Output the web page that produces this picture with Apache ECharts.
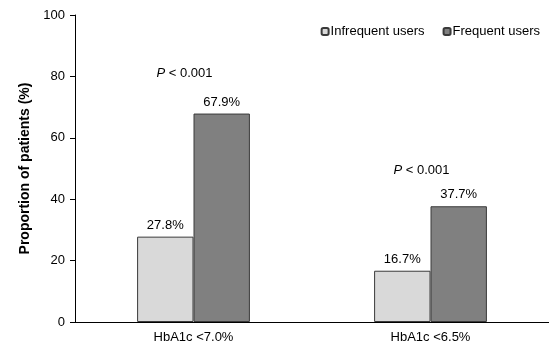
<!DOCTYPE html>
<html><head><meta charset="utf-8">
<script src="https://cdn.jsdelivr.net/npm/echarts@6/dist/echarts.min.js"></script>
<style>html,body{margin:0;padding:0;background:#fff}#c{width:549px;height:346px}</style>
</head><body><div id="c"></div>
<script>
var categories = ['HbA1c <7.0%', 'HbA1c <6.5%'];
var infrequent = [27.8, 16.7];
var frequent = [67.9, 37.7];
var pLabels = ['< 0.001', '< 0.001'];
var pValueY = [81.0, 49.5];
var yTicks = [0, 20, 40, 60, 80, 100];

var chart = echarts.init(document.getElementById('c'));
var font = 'Liberation Sans, Arial, sans-serif';
chart.setOption({
  animation: false,
  textStyle: {fontFamily: font},
  grid: {left: 75, top: 15, width: 478, height: 307, containLabel: false},
  legend: {
    top: 20, right: 4, itemWidth: 7, itemHeight: 7, itemGap: 18,
    textStyle: {fontSize: 13, color: '#000', fontFamily: font, padding: [0,0,0,-3]},
    data: ['Infrequent users', 'Frequent users']
  },
  xAxis: {
    type: 'category', data: categories,
    axisLine: {lineStyle: {color: '#000', width: 1}},
    axisTick: {show: false},
    axisLabel: {fontSize: 13, color: '#000', margin: 9, fontFamily: font}
  },
  yAxis: {
    type: 'value', min: 0, max: 100, interval: 20,
    name: 'Proportion of patients (%)', nameLocation: 'middle', nameGap: 42,
    nameTextStyle: {fontSize: 14, fontWeight: 'bold', color: '#000', fontFamily: font},
    axisLine: {show: true, lineStyle: {color: '#000', width: 1}},
    axisTick: {show: true, length: 5, lineStyle: {color: '#000'}},
    splitLine: {show: false},
    axisLabel: {fontSize: 13, color: '#000', margin: 10, fontFamily: font,
      formatter: function(v){ return yTicks.indexOf(v) >= 0 ? String(v) : ''; }}
  },
  series: [
    {name: 'Infrequent users', type: 'bar', data: infrequent, barGap: '0%', barCategoryGap: '52.4%',
     itemStyle: {color: '#d9d9d9', borderColor: '#3a3a3a', borderWidth: 1},
     label: {show: true, position: 'top', distance: 5, fontSize: 13, color: '#000', fontFamily: font,
       formatter: function(p){ return p.value.toFixed(1) + '%'; }}},
    {name: 'Frequent users', type: 'bar', data: frequent,
     itemStyle: {color: '#808080', borderColor: '#3a3a3a', borderWidth: 1},
     label: {show: true, position: 'top', distance: 5, fontSize: 13, color: '#000', fontFamily: font,
       formatter: function(p){ return p.value.toFixed(1) + '%'; }}}
  ]
});

var g = [];
for (var i = 0; i < categories.length; i++) {
  var pt = chart.convertToPixel({gridIndex: 0}, [categories[i], pValueY[i]]);
  g.push({
    type: 'text', x: pt[0] - 9, y: pt[1],
    style: {
      text: '{i|P} ' + pLabels[i],
      rich: {i: {fontStyle: 'italic', fontSize: 13, fontFamily: font, fill: '#000'}},
      fontSize: 13, fontFamily: font, fill: '#000',
      align: 'center', verticalAlign: 'middle'
    }
  });
}
chart.setOption({graphic: g});
</script></body></html>
